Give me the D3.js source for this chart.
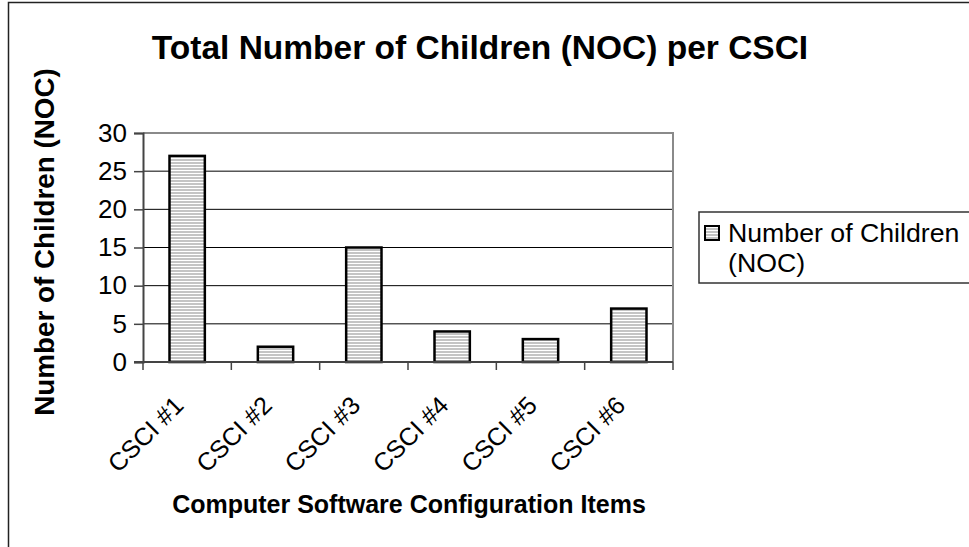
<!DOCTYPE html>
<html>
<head>
<meta charset="utf-8">
<script src="https://cdn.jsdelivr.net/npm/d3@7/dist/d3.min.js"></script>
<style>
  html, body { margin: 0; padding: 0; background: #fff; }
  svg { display: block; font-family: "Liberation Sans", Arial, sans-serif; }
</style>
</head>
<body>
<svg id="chart" width="969" height="547"></svg>
<script>
// Chart data
const categories = ["CSCI #1", "CSCI #2", "CSCI #3", "CSCI #4", "CSCI #5", "CSCI #6"];
const nocValues = [27, 2, 15, 4, 3, 7];
const yTicks = [0, 5, 10, 15, 20, 25, 30];
const seriesName = ["Number of Children", "(NOC)"];
const chartTitle = "Total Number of Children (NOC) per CSCI";
const xTitle = "Computer Software Configuration Items";
const yTitle = "Number of Children (NOC)";

const svg = d3.select("#chart");

// Hatched fill used by the bars and the legend key
const defs = svg.append("defs");
const pat = defs.append("pattern")
  .attr("id", "hstripe")
  .attr("patternUnits", "userSpaceOnUse")
  .attr("width", 6).attr("height", 3);
pat.append("rect").attr("width", 6).attr("height", 3).attr("fill", "#c4c4c4");
pat.append("rect").attr("y", 2).attr("width", 6).attr("height", 1).attr("fill", "#ffffff");

// Outer chart frame
svg.append("rect")
  .attr("x", 8.5).attr("y", 2.5)
  .attr("width", 1000).attr("height", 600)
  .attr("fill", "none").attr("stroke", "#222").attr("stroke-width", 1.5);

const plot = { left: 143, right: 673, top: 133, bottom: 362 };

const x = d3.scaleBand()
  .domain(categories)
  .range([plot.left, plot.right])
  .paddingInner(0.6).paddingOuter(0.3);

const xEdges = d3.scaleBand()
  .domain(categories)
  .range([plot.left, plot.right])
  .padding(0);

const y = d3.scaleLinear().domain([0, 30]).range([plot.bottom, plot.top]);

// Horizontal gridlines
svg.append("g")
  .selectAll("line")
  .data(yTicks.filter(t => t > 0 && t < 30))
  .join("line")
  .attr("x1", plot.left).attr("x2", plot.right)
  .attr("y1", d => y(d)).attr("y2", d => y(d))
  .attr("stroke", "#000").attr("stroke-width", 1);

// Plot area frame (top and right)
svg.append("path")
  .attr("d", `M${plot.left},${plot.top}H${plot.right}V${plot.bottom}`)
  .attr("fill", "none").attr("stroke", "#8a8a8a").attr("stroke-width", 2);

// Bars
svg.append("g")
  .selectAll("rect")
  .data(nocValues)
  .join("rect")
  .attr("x", (d, i) => x(categories[i]))
  .attr("width", x.bandwidth())
  .attr("y", d => y(d))
  .attr("height", d => y(0) - y(d))
  .attr("fill", "url(#hstripe)")
  .attr("stroke", "#000").attr("stroke-width", 2.5);

// Y axis
const yAxis = d3.axisLeft(y).tickValues(yTicks).tickSize(9).tickPadding(7);
const gy = svg.append("g").attr("transform", `translate(${plot.left},0)`).call(yAxis);
gy.select(".domain").attr("stroke", "#444").attr("stroke-width", 2);
gy.selectAll(".tick line").attr("stroke", "#444").attr("stroke-width", 1.5);
gy.selectAll(".tick text")
  .attr("font-size", 26).attr("fill", "#000")
  .attr("font-family", "Liberation Sans, Arial, sans-serif");

// X axis line and tick marks at category boundaries
const edges = categories.map(c => xEdges(c)).concat([plot.right]);
svg.append("line")
  .attr("x1", plot.left - 9).attr("x2", plot.right)
  .attr("y1", plot.bottom).attr("y2", plot.bottom)
  .attr("stroke", "#444").attr("stroke-width", 2);
svg.append("g")
  .selectAll("line")
  .data(edges)
  .join("line")
  .attr("x1", d => d).attr("x2", d => d)
  .attr("y1", plot.bottom).attr("y2", plot.bottom + 8)
  .attr("stroke", "#444").attr("stroke-width", 1.5);

// Rotated category labels
svg.append("g")
  .selectAll("text")
  .data(categories)
  .join("text")
  .attr("transform", d => `translate(${xEdges(d) + xEdges.bandwidth() / 2 - 2},407) rotate(-45)`)
  .attr("text-anchor", "end")
  .attr("font-size", 25)
  .text(d => d);

// Titles
svg.append("text")
  .attr("x", 480).attr("y", 59)
  .attr("text-anchor", "middle")
  .attr("font-size", 33.5).attr("font-weight", "bold")
  .text(chartTitle);

svg.append("text")
  .attr("x", 409).attr("y", 513)
  .attr("text-anchor", "middle")
  .attr("font-size", 25).attr("font-weight", "bold")
  .text(xTitle);

svg.append("text")
  .attr("transform", "translate(54,242) rotate(-90)")
  .attr("text-anchor", "middle")
  .attr("font-size", 27.8).attr("font-weight", "bold")
  .text(yTitle);

// Legend
const legend = svg.append("g");
legend.append("rect")
  .attr("x", 699).attr("y", 212)
  .attr("width", 300).attr("height", 71)
  .attr("fill", "#fff").attr("stroke", "#333").attr("stroke-width", 1.5);
legend.append("rect")
  .attr("x", 705).attr("y", 226)
  .attr("width", 14).attr("height", 14)
  .attr("fill", "url(#hstripe)")
  .attr("stroke", "#000").attr("stroke-width", 2);
legend.selectAll("text.item")
  .data(seriesName)
  .join("text")
  .attr("class", "item")
  .attr("x", 728)
  .attr("y", (d, i) => 242 + i * 30)
  .attr("font-size", 26.7)
  .text(d => d);
</script>
</body>
</html>
